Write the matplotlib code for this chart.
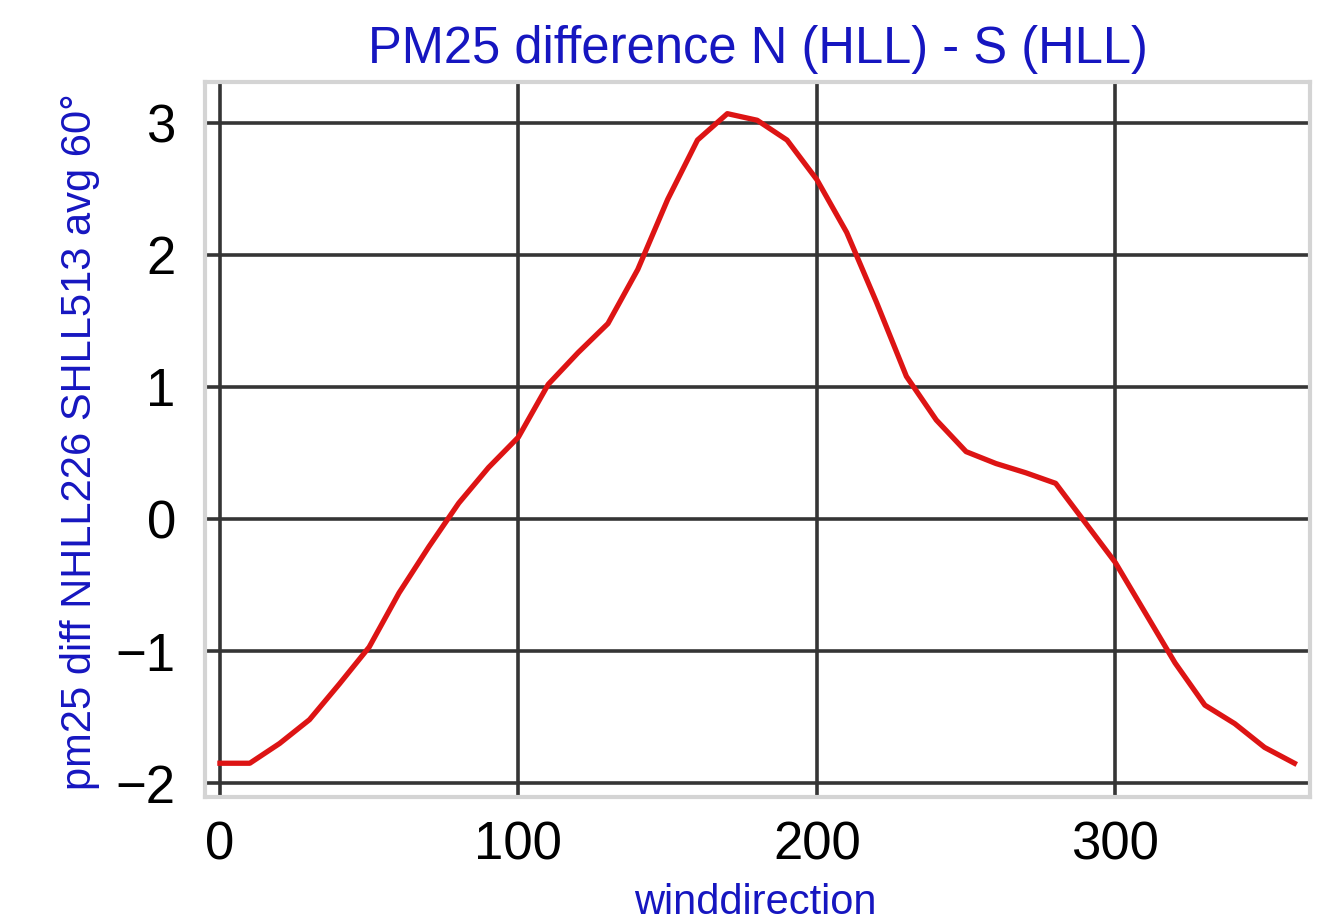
"""PM25 difference N (HLL) - S (HLL) selon la direction du vent."""
import matplotlib
matplotlib.use("Agg")
import matplotlib.pyplot as plt

BLEU, ROUGE, GRILLE, CADRE = "#1616c0", "#dd1414", "#353535", "#d4d4d4"

plt.rcParams.update({
    "font.family": ["Liberation Sans", "DejaVu Sans"],
    "axes.unicode_minus": True,
})

direction = [0, 10, 20, 30, 40, 50, 60, 70, 80, 90, 100, 110, 120, 130, 140, 150,
             160, 170, 180, 190, 200, 210, 220, 230, 240, 250, 260, 270, 280, 290,
             300, 310, 320, 330, 340, 350, 360]
diff = [-1.85, -1.85, -1.70, -1.52, -1.25, -0.97, -0.56, -0.21, 0.12, 0.39, 0.62,
        1.02, 1.26, 1.48, 1.89, 2.42, 2.87, 3.07, 3.02, 2.87, 2.57, 2.17, 1.64,
        1.08, 0.75, 0.51, 0.42, 0.35, 0.27, -0.03, -0.33, -0.71, -1.09, -1.41,
        -1.55, -1.73, -1.85]
xticks = [0, 100, 200, 300]
yticks = [-2, -1, 0, 1, 2, 3]

fig = plt.figure(figsize=(13.33, 9.24), dpi=100)
ax = fig.add_axes([0.1538, 0.1374, 0.8289, 0.7739])

ax.plot(direction, diff, color=ROUGE, lw=3.8, zorder=3, solid_joinstyle="round")
ax.set_xlim(-5, 365.2)
ax.set_ylim(-2.106, 3.31)
ax.set_xticks(xticks)
ax.set_yticks(yticks)
ax.tick_params(length=0, labelsize=38, colors="black")
ax.tick_params(axis="y", pad=21)
ax.tick_params(axis="x", pad=17)
ax.grid(True, color=GRILLE, lw=2.6)
ax.set_axisbelow(True)
for s in ax.spines.values():
    s.set_color(CADRE)
    s.set_linewidth(3)

ax.set_title("PM25 difference N (HLL) - S (HLL)", fontsize=36.5, color=BLEU, pad=14)
fig.text(755 / 1333, 1 - 914 / 924, "winddirection", fontsize=30, color=BLEU,
         ha="center", va="baseline")
fig.text(80 / 1333, 1 - 442 / 924, "pm25 diff NHLL226 SHLL513 avg 60°", fontsize=30,
         color=BLEU, rotation=90, ha="center", va="center")

fig.savefig("out.png", dpi=100)
